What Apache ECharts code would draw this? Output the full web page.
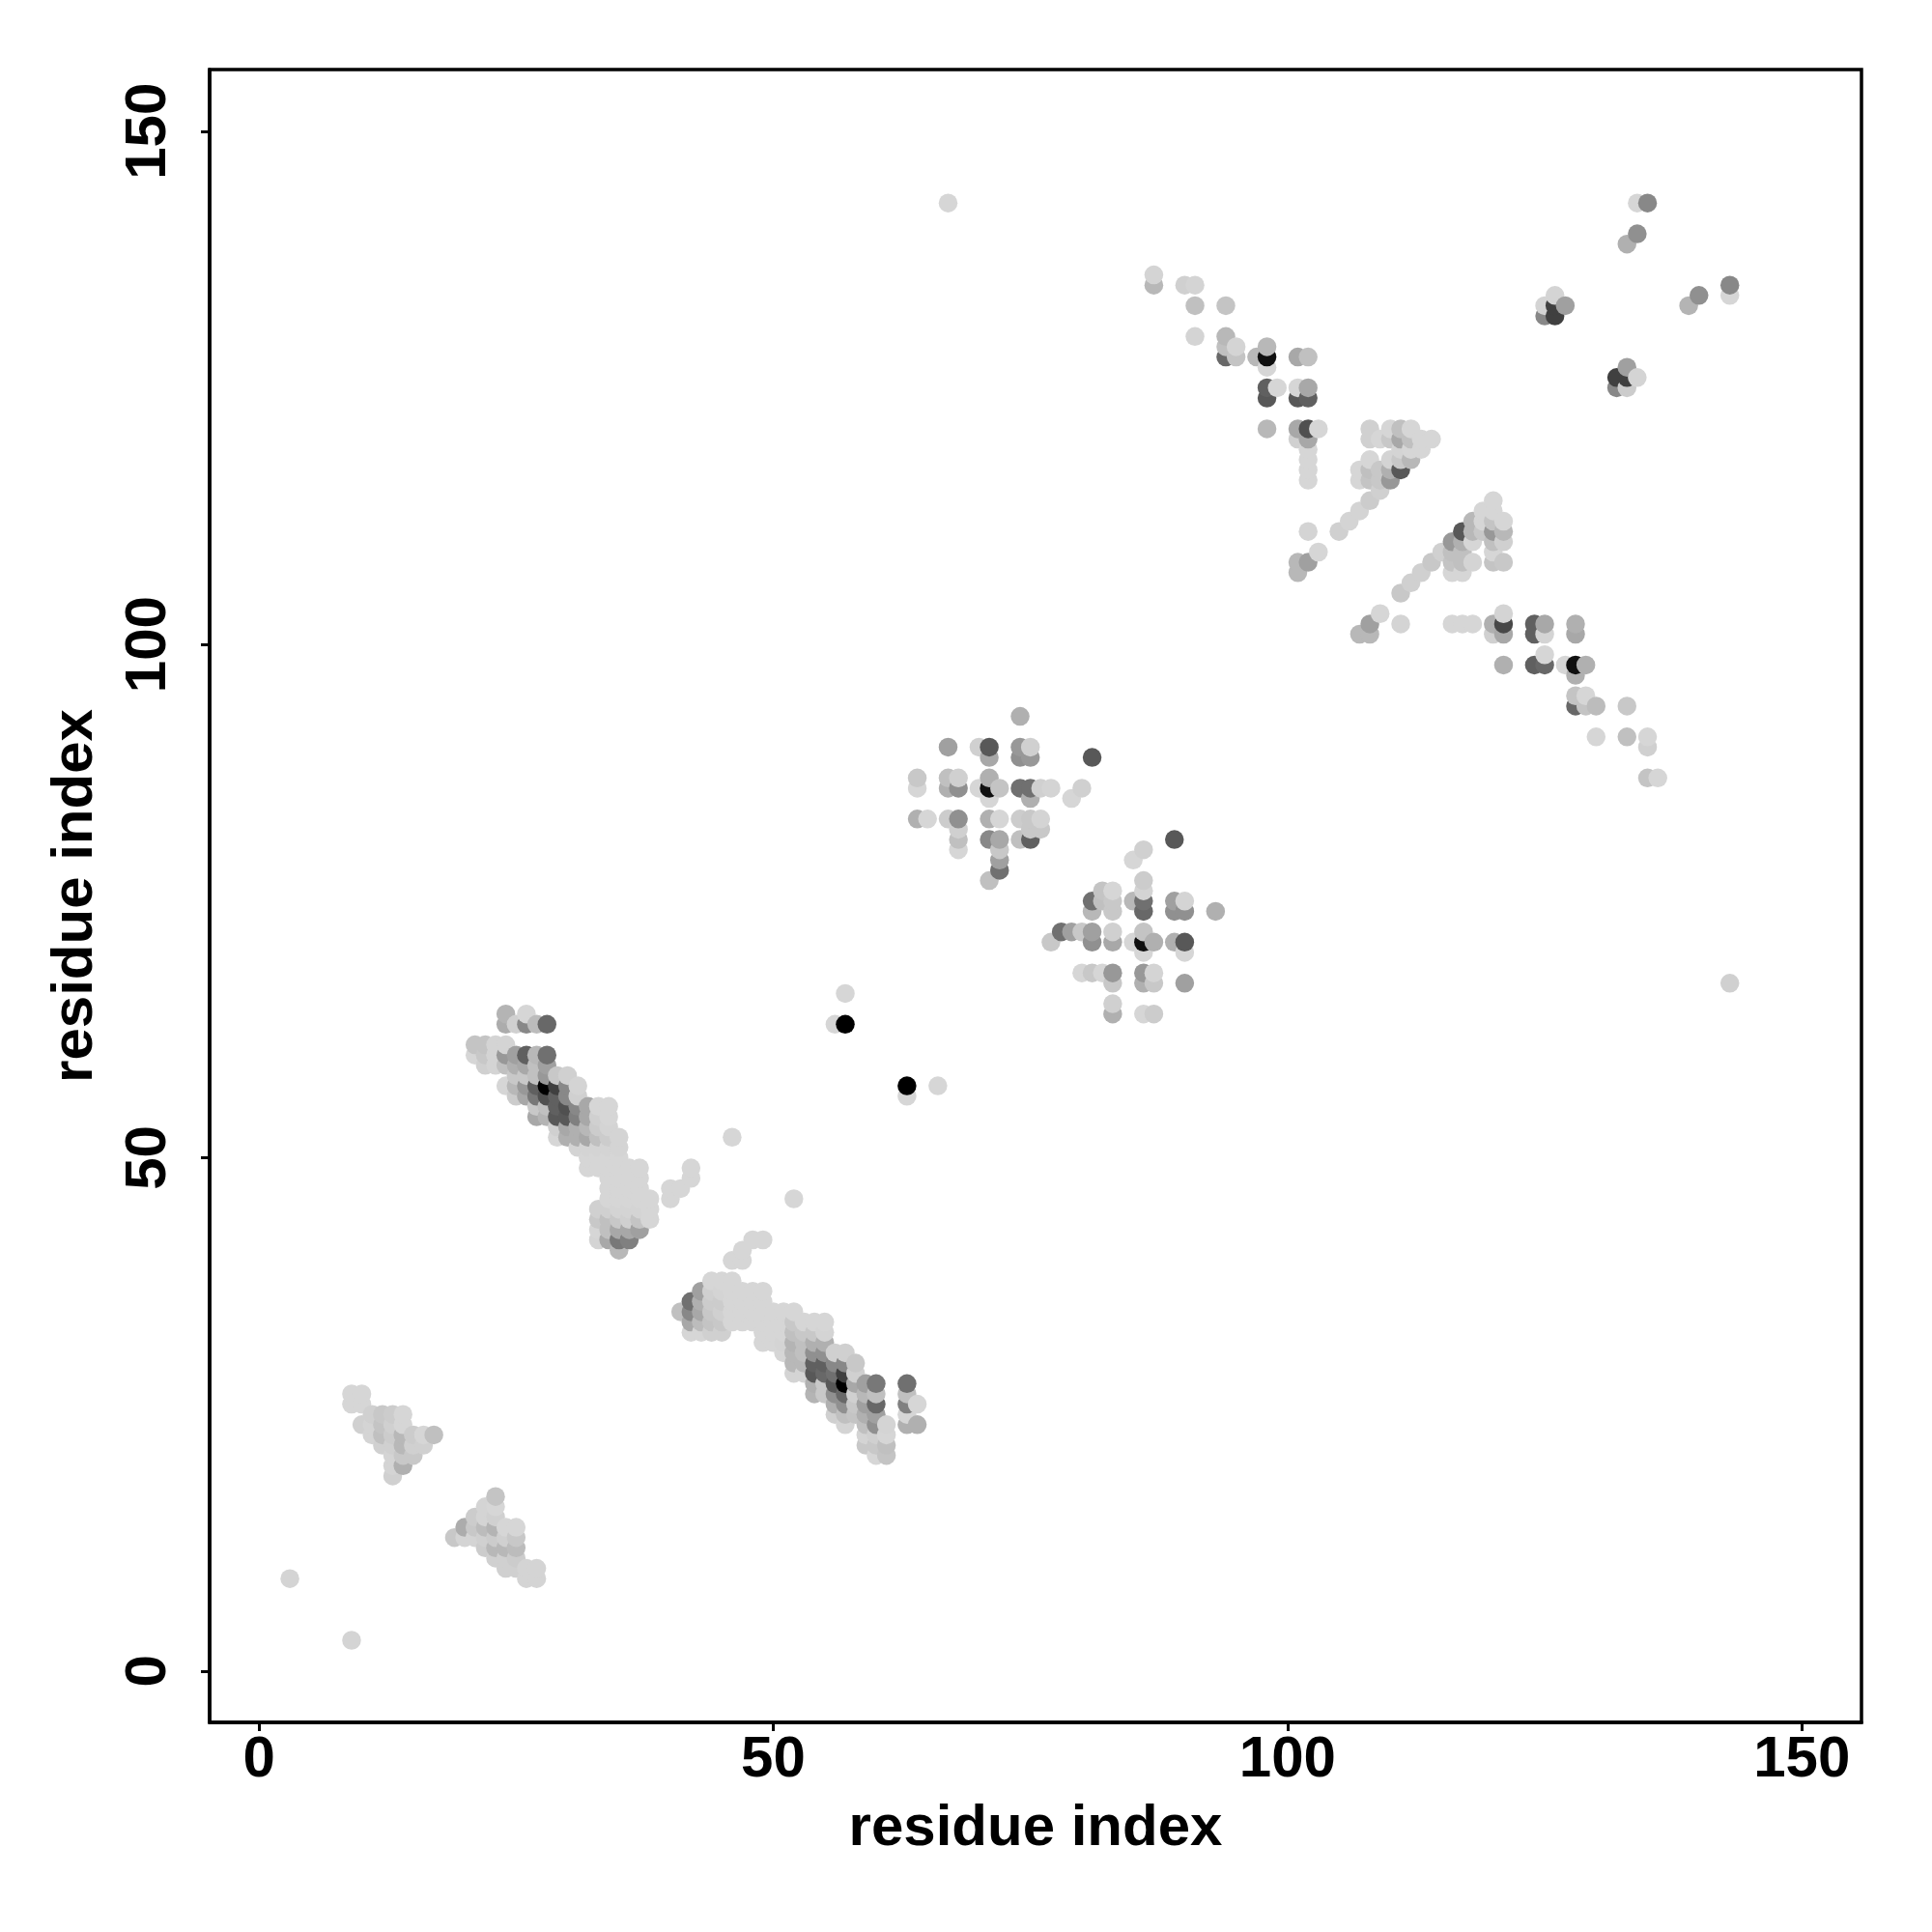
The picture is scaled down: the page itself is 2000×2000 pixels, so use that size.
<!DOCTYPE html>
<html><head><meta charset="utf-8">
<style>html,body{margin:0;padding:0;background:#fff}#c{width:2000px;height:2000px}</style>
<script src="https://cdn.jsdelivr.net/npm/echarts@6/dist/echarts.min.js"></script>
</head><body><div id="c"></div>
<script>
// Each row: [residue y, x, gray, x, gray, ...]; gray is the dot's grey level (0 black .. 255 white)
const tickValues = [0, 50, 100, 150];
const axisTitle = 'residue index';
const isolated = [
 [9, 3,0xd4],[3, 9,0xd4],[143, 67,0xd8],[67, 143,0xd0],[66, 57,0xd8],[63, 56,0xd8,57,0x00],
 [57, 63,0x00,66,0xd8],[56, 63,0xdc],[52, 46,0xd8],[46, 52,0xd8,40,0xd8],[47, 40,0xd8,41,0xd8],[48, 42,0xd8],[49, 42,0xd8],
 [42, 48,0xd8,49,0xd8],[41, 47,0xd8],[40, 46,0xd8,47,0xd8]
];
const clusterTriangleA = [
 [27, 9,0xd8,10,0xd8],[26, 9,0xd8,10,0xd8],
 [25, 11,0xd0,12,0xc8,13,0xcc,14,0xdc],
 [24, 10,0xd0,11,0xd4,12,0xc4,13,0xd0,14,0xdc],
 [23, 11,0xd4,12,0xc0,13,0xcc,14,0xb8,15,0xcc,16,0xd8,17,0xc0],
 [22, 12,0xd0,13,0xd0,14,0xb8,15,0xd0,16,0xd0],
 [21, 13,0xd4,14,0xc8,15,0xc8],
 [20, 13,0xd4,14,0xb0],[19, 13,0xd0]
];
const clusterTriangleB = [
 [17, 23,0xc4],[16, 22,0xd4,23,0xd8],[15, 21,0xcc,22,0xd4,23,0xd0],
 [14, 20,0xac,21,0xc8,22,0xbc,23,0xb4,24,0xd8,25,0xd8],
 [13, 19,0xc8,20,0xd4,21,0xd4,22,0xd0,23,0xcc,24,0xd0,25,0xc8],
 [12, 22,0xcc,23,0xb8,24,0xb8,25,0xbc],
 [11, 23,0xd0,24,0xd0,25,0xcc],
 [10, 24,0xd0,25,0xd0,26,0xd4,27,0xd4],[9, 26,0xd4,27,0xd4]
];
const strandUpper = [
 [64, 24,0xb4,26,0xd8],
 [63, 24,0xac,25,0xd0,26,0x88,27,0xbc,28,0x68],
 [61, 21,0xc4,22,0xc4,23,0xd4,24,0xd4],
 [60, 21,0xd8,22,0xc8,23,0xd4,24,0x98,25,0xa0,26,0x60,27,0xb8,28,0x70],
 [59, 22,0xd0,23,0xd4,24,0xc0,25,0xb0,26,0xa8,27,0xc0,28,0xa0],
 [58, 25,0xc8,26,0xc8,27,0xc0,28,0x98,29,0xc8,30,0xd0],
 [57, 24,0xd8,25,0xb8,26,0x98,27,0x60,28,0x00,29,0x40,30,0x88,31,0xd4],
 [56, 25,0xcc,26,0xa8,27,0x78,28,0x50,29,0x60,30,0x88,31,0xd0],
 [55, 27,0xc8,28,0xc0,29,0x60,30,0x50,31,0x88,32,0xa8,33,0xd8,34,0xd8],
 [54, 27,0xa8,28,0xb4,29,0x58,30,0x58,31,0x80,32,0xa8,33,0xd0,34,0xd8],
 [53, 29,0xd0,30,0xa8,31,0xb0,32,0xb8,33,0xcc,34,0xd4],
 [52, 29,0xd8,30,0xb0,31,0xb0,32,0xa8,33,0xc0,34,0xcc,35,0xd4],
 [51, 31,0xd4,32,0xd4,33,0xd4,34,0xd4,35,0xd4],
 [50, 32,0xd8,33,0xd8,34,0xd8,35,0xd8],
 [49, 32,0xd8,33,0xd8,34,0xd8,35,0xd8,36,0xd8,37,0xd8],
 [48, 34,0xd8,35,0xd8,36,0xd8,37,0xd8],
 [47, 34,0xd8,35,0xd8,36,0xd8,37,0xd8],
 [46, 34,0xd8,35,0xd8,36,0xd8,37,0xd8,38,0xdc],
 [45, 33,0xd0,34,0xd0,35,0xd4,36,0xd4,37,0xd4,38,0xdc],
 [44, 33,0xc8,34,0xc0,35,0xc8,36,0xd0,37,0xc4,38,0xdc],
 [43, 33,0xd8,34,0xc0,35,0xa8,36,0xa8,37,0xa0],
 [42, 33,0xd4,34,0xa8,35,0x78,36,0x80],
 [41, 35,0xb8]
];
const strandLower = [
 [38, 44,0xd8,45,0xd8,46,0xd8],
 [37, 43,0xa0,44,0xd0,45,0xd4,46,0xd8,47,0xd8,48,0xd8,49,0xd8],
 [36, 42,0x70,43,0xb0,44,0xcc,45,0xcc,46,0xd8,47,0xd8,48,0xd8,49,0xd8],
 [35, 41,0xc0,42,0x88,43,0xa8,44,0xc8,45,0xd0,46,0xd8,47,0xd8,48,0xd8,49,0xd8,50,0xd8,51,0xd8,52,0xd8],
 [34, 42,0xa8,43,0xbc,44,0xc4,45,0xc8,46,0xd8,47,0xd8,48,0xd8,49,0xd8,50,0xd8,51,0xd8,52,0xc8,53,0xd8,54,0xd8,55,0xd8],
 [33, 42,0xd8,43,0xd8,44,0xd0,45,0xd0,49,0xd8,50,0xd8,51,0xd8,52,0xc0,53,0xc8,54,0xc8,55,0xd4],
 [32, 49,0xd8,50,0xd8,51,0xd4,52,0xb4,53,0xc0,54,0xb0,55,0xb0],
 [31, 51,0xd8,52,0xb8,53,0xc0,54,0x90,55,0x90,56,0xd0,57,0xd0],
 [30, 52,0xb8,53,0xb8,54,0x60,55,0x60,56,0x88,57,0x88,58,0xc8],
 [29, 52,0xd4,53,0xd4,54,0x58,55,0x68,56,0x70,57,0x40,58,0xd0],
 [28, 54,0xb0,55,0xc8,56,0x58,57,0x00,58,0xa8,59,0xa0,60,0x78,63,0x70],
 [27, 54,0xb4,55,0xc8,56,0x90,57,0x68,58,0xd0,59,0xb8,60,0xc0,63,0xc0],
 [26, 56,0xb0,57,0x90,58,0xc8,59,0xa0,60,0x68,63,0x80,64,0xd8],
 [25, 56,0xd0,57,0xc0,58,0xc4,59,0xb0,60,0xa0,63,0xd8],
 [24, 57,0xd4,59,0xc0,60,0x90,61,0xd4,63,0xb0,64,0xb0],
 [23, 59,0xd4,60,0xd0,61,0xd8],
 [22, 59,0xc8,60,0xc8,61,0xc0],
 [21, 60,0xd8,61,0xc4]
];
const clusterMidA = [
 [93, 74,0xb0],
 [90, 67,0xa0,70,0xd0,71,0x58,74,0x98,75,0xd0],
 [89, 71,0xa8,74,0x90,75,0x98,81,0x58],
 [87, 64,0xc8,67,0xc0,68,0xd0,71,0xb0],
 [86, 64,0xdc,67,0xb0,68,0x90,70,0xd8,71,0x10,72,0xc4,74,0x70,75,0x70,76,0xd0,77,0xd4,80,0xd0],
 [85, 71,0xdc,75,0xb0,79,0xd8],
 [83, 64,0xb0,65,0xd8,67,0xcc,68,0x90,71,0xb0,72,0xd8,74,0xcc,75,0xc8,76,0xd4],
 [82, 68,0xd0,75,0xc8,76,0xc8],
 [81, 68,0xc0,71,0x88,72,0xa8,74,0xc0,75,0x60],
 [80, 68,0xd8,72,0xc8],[79, 72,0xa0],[78, 72,0x70],[77, 71,0xc0]
];
const clusterMidB = [
 [81, 89,0x58],[80, 86,0xd0],[79, 85,0xdc],[77, 86,0xcc],
 [76, 82,0xc4,83,0xd8,86,0xd4],
 [75, 81,0x70,82,0xc0,83,0xc8,85,0xb8,86,0x70,89,0xa0,90,0xd4],
 [74, 81,0xb8,83,0xc8,86,0x68,89,0x90,90,0x90,93,0xb0],
 [72, 78,0x70,79,0xa0,80,0xc8,81,0xa0,83,0xd0,86,0xc4],
 [71, 77,0xc8,81,0x90,83,0xa8,85,0xdc,86,0x10,87,0xb0,89,0xb0,90,0x58],
 [70, 86,0xdc,90,0xdc],
 [68, 80,0xd8,81,0xc8,82,0xd8,83,0x98,86,0x98,87,0xd4],
 [67, 83,0xc8,86,0xb0,87,0xc8,90,0xa0],
 [65, 83,0xd0],[64, 83,0xb0,86,0xdc,87,0xcc]
];
const clusterUpperA = [
 [136, 87,0xd4],[135, 87,0xb8,90,0xd0,91,0xd4],[133, 91,0xc0,94,0xc4],
 [130, 91,0xd4,94,0xb8],[129, 94,0xc0,95,0xd4,98,0xb8],
 [128, 94,0x68,95,0xc4,97,0xb8,98,0x10,101,0xa8,102,0xc0],[127, 98,0xd8],
 [125, 98,0x60,99,0xd8,101,0xd8,102,0xa8],[124, 98,0x58,101,0x58,102,0x60],
 [121, 98,0xb8,101,0xa8,102,0x50,103,0xd8],[120, 101,0xd0,102,0xa8],
 [119, 102,0xd8],[118, 102,0xdc],[117, 102,0xdc],[116, 102,0xdc],
 [111, 102,0xd4,105,0xd0],[109, 103,0xd8],[108, 101,0xb8,102,0xa0],[107, 101,0xb8]
];
const clusterUpperB = [
 [121, 108,0xd0,110,0xd8,111,0xc0,112,0xd8],
 [120, 108,0xd0,109,0xd8,110,0xc8,111,0xa8,112,0xc0,113,0xd8,114,0xd8],
 [119, 111,0xd4,112,0xd8,113,0xd8],
 [118, 108,0xd8,110,0xd4,111,0xc8,112,0xb8],
 [117, 107,0xd8,108,0xc0,109,0xc8,110,0xb0,111,0x58],
 [116, 107,0xd8,108,0xc4,109,0xc8,110,0x98],
 [115, 109,0xd0],[114, 108,0xcc],[113, 107,0xd4],[112, 106,0xd4]
];
const clusterUpperC = [
 [114, 120,0xd8],[113, 119,0xd8,120,0xd8],
 [112, 118,0xb8,119,0xd8,120,0xc4,121,0xd8],
 [111, 117,0x58,118,0xb8,119,0xc8,120,0x98,121,0xb8],
 [110, 116,0x98,117,0xb0,118,0xd8,120,0xc0,121,0xd0],
 [109, 115,0xd0,116,0xc0,117,0xc0,120,0xd8],
 [108, 114,0xc8,116,0xc4,117,0xc0,118,0xd4,120,0xc4,121,0xc8],
 [107, 113,0xd0,116,0xd8,117,0xd8],[106, 112,0xd0],[105, 111,0xc8]
];
const clusterUpperD = [
 [103, 109,0xd8,121,0xd4],
 [102, 108,0xa0,111,0xd4,116,0xd8,117,0xd8,118,0xd8,120,0xb0,121,0x48,124,0x60,125,0xa8,128,0xb0],
 [101, 107,0xb8,108,0xb8,120,0xd0,121,0xa8,124,0x60,125,0xd4,128,0xa8],
 [99, 125,0xd8],[98, 121,0xb0,124,0x60,125,0x68,127,0xd8,128,0x10,129,0xb0],[97, 128,0xb0],
 [95, 128,0xc4,129,0xd8],[94, 128,0x68,129,0xc4,130,0xbc,133,0xc8],
 [91, 130,0xd8,133,0xc0,135,0xd8],[90, 135,0xd0],[87, 135,0xc4,136,0xd8]
];
const clusterCorner = [
 [143, 134,0xd8,135,0x88],[140, 134,0x90],[139, 133,0xb0],
 [135, 143,0x88],[134, 126,0xd4,140,0x90,143,0xdc],
 [133, 125,0xd4,126,0x40,127,0xa0,139,0xb4],[132, 125,0x88,126,0x40],
 [127, 133,0xa0],[126, 132,0x40,133,0x40,134,0xd4],[125, 132,0x88,133,0xcc]
];

const allRows = [].concat(isolated, clusterTriangleA, clusterTriangleB, strandUpper, strandLower,
  clusterMidA, clusterMidB, clusterUpperA, clusterUpperB, clusterUpperC, clusterUpperD, clusterCorner);
const points = [];
allRows.forEach(r => { for (let i = 1; i < r.length; i += 2) points.push([r[i], r[0], r[i + 1]]); });
points.sort((a, b) => a[0] - b[0] || a[1] - b[1]);

const font = '"Liberation Sans", Arial, sans-serif';
const lightest = 0xd6;
const chart = echarts.init(document.getElementById('c'), null, {renderer: 'canvas'});
const axisCommon = {
  type: 'value', splitLine: {show: false}, scale: false,
  axisLine: {show: true, onZero: false, lineStyle: {color: '#000', width: 3.5}},
  axisTick: {show: true, length: 9, customValues: tickValues, lineStyle: {color: '#000', width: 3}},
  name: axisTitle, nameLocation: 'middle',
  nameTextStyle: {fontFamily: font, fontWeight: 'bold', fontSize: 60, color: '#000'}
};
chart.setOption({
  animation: false, backgroundColor: '#fff',
  grid: {left: 217, right: 73, top: 72, bottom: 217, show: true, borderColor: '#000', borderWidth: 3.5, containLabel: false},
  xAxis: Object.assign({}, axisCommon, {min: -4.8, max: 155.8, nameGap: 80,
    axisLabel: {customValues: tickValues, margin: 9, fontFamily: font, fontWeight: 'bold', fontSize: 60, color: '#000'}}),
  yAxis: Object.assign({}, axisCommon, {min: -5, max: 156, nameGap: 109,
    axisLabel: {customValues: tickValues, rotate: 90, margin: 33, fontFamily: font, fontWeight: 'bold', fontSize: 60, color: '#000',
      align: 'center', verticalAlign: 'bottom'}}),
  series: [{
    type: 'scatter', data: points, symbol: 'circle', symbolSize: 19.5,
    itemStyle: {opacity: 1, color: p => { const g = Math.min(p.value[2], lightest); return 'rgb(' + g + ',' + g + ',' + g + ')'; }},
    emphasis: {disabled: true}, silent: true
  }]
});
</script></body></html>
